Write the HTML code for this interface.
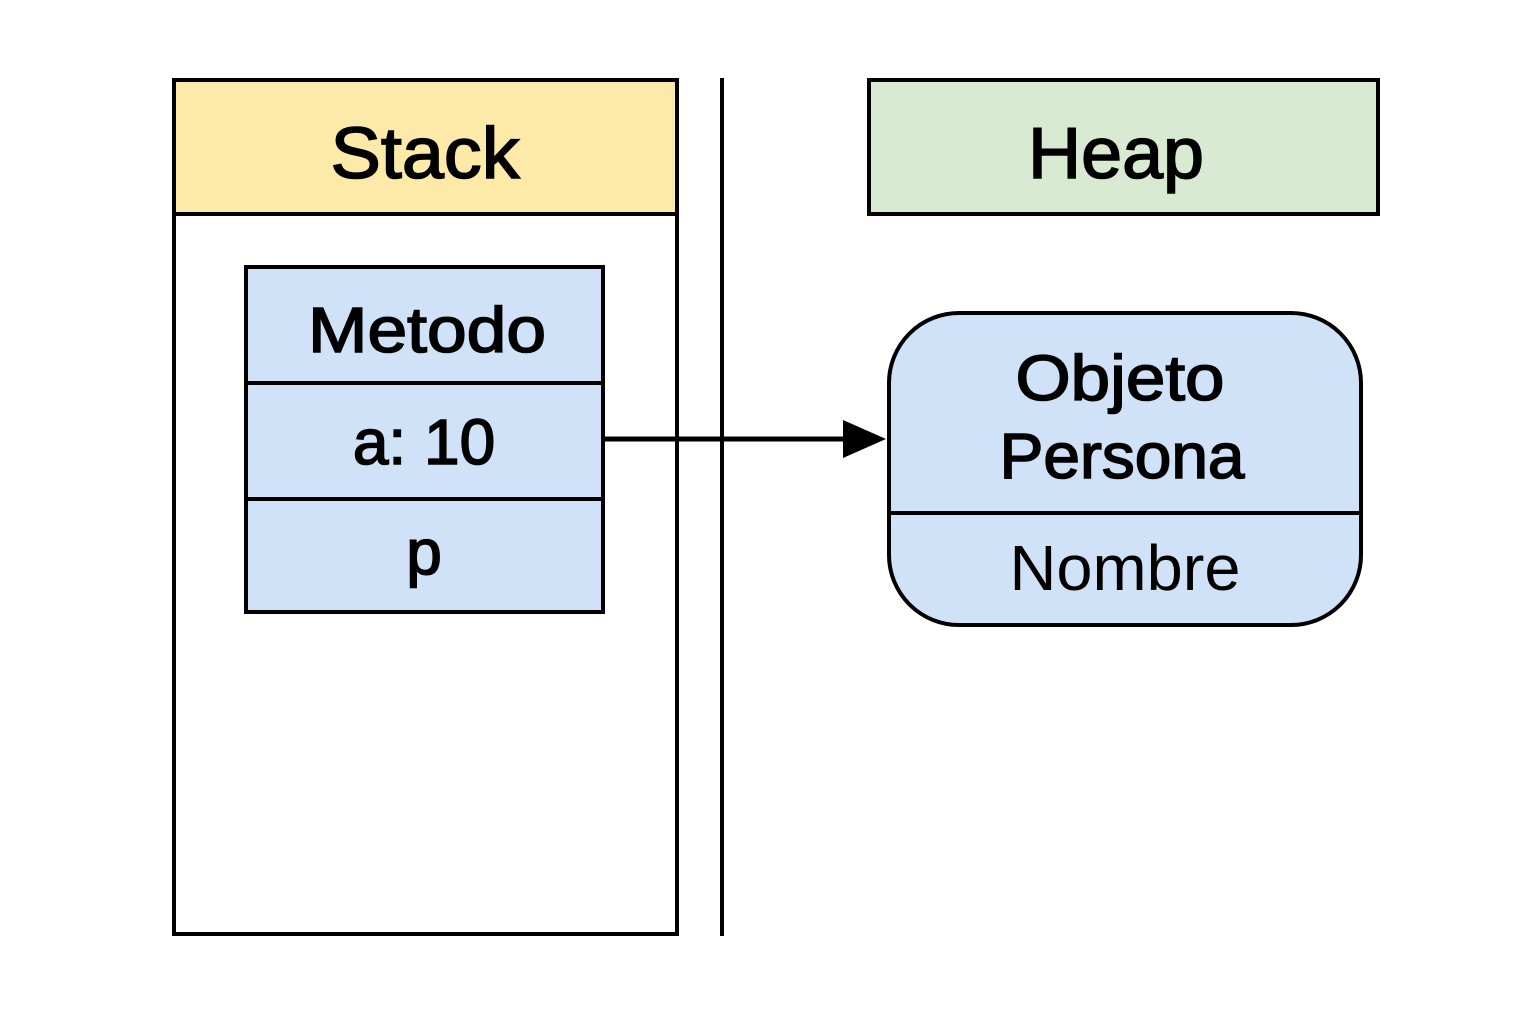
<!DOCTYPE html>
<html><head><meta charset="utf-8"><style>
html,body{margin:0;padding:0;background:#fff;}
svg{display:block;}
text{font-family:"Liberation Sans",sans-serif;fill:#000;text-anchor:middle;}
.b{stroke:#000;stroke-width:1.6px;}
</style></head><body>
<svg width="1536" height="1024" viewBox="0 0 1536 1024" xmlns="http://www.w3.org/2000/svg">
<rect width="1536" height="1024" fill="#fff"/>
<rect x="174" y="80" width="503" height="134" fill="#fdeaa8"/>
<rect x="174" y="80" width="503" height="854" fill="none" stroke="#000" stroke-width="4"/>
<line x1="174" y1="214" x2="677" y2="214" stroke="#000" stroke-width="4"/>
<text class="b" x="425" y="178" font-size="72" textLength="189" lengthAdjust="spacingAndGlyphs">Stack</text>
<line x1="722" y1="78" x2="722" y2="936" stroke="#000" stroke-width="4"/>
<rect x="869" y="80" width="509" height="134" fill="#d9ead3" stroke="#000" stroke-width="4"/>
<text class="b" x="1116" y="178" font-size="72" textLength="176" lengthAdjust="spacingAndGlyphs">Heap</text>
<rect x="246" y="267" width="357" height="345" fill="#cfe2f7" stroke="#000" stroke-width="4"/>
<line x1="246" y1="383" x2="603" y2="383" stroke="#000" stroke-width="4"/>
<line x1="246" y1="499" x2="603" y2="499" stroke="#000" stroke-width="4"/>
<text class="b" x="427" y="352" font-size="64" textLength="238" lengthAdjust="spacingAndGlyphs">Metodo</text>
<text class="b" x="424" y="464" font-size="64">a: 10</text>
<text class="b" x="424" y="574" font-size="64">p</text>
<line x1="604" y1="439" x2="850" y2="439" stroke="#000" stroke-width="5"/>
<polygon points="886,439 843,420 843,458" fill="#000"/>
<rect x="889" y="313" width="472" height="312" rx="70" ry="70" fill="#cfe2f7" stroke="#000" stroke-width="4"/>
<line x1="889" y1="513" x2="1361" y2="513" stroke="#000" stroke-width="4"/>
<text class="b" x="1120" y="400" font-size="64" textLength="209" lengthAdjust="spacingAndGlyphs">Objeto</text>
<text class="b" x="1122" y="478" font-size="64" textLength="245" lengthAdjust="spacingAndGlyphs">Persona</text>
<text x="1125" y="590" font-size="64" textLength="231" lengthAdjust="spacingAndGlyphs">Nombre</text>
</svg>
</body></html>
